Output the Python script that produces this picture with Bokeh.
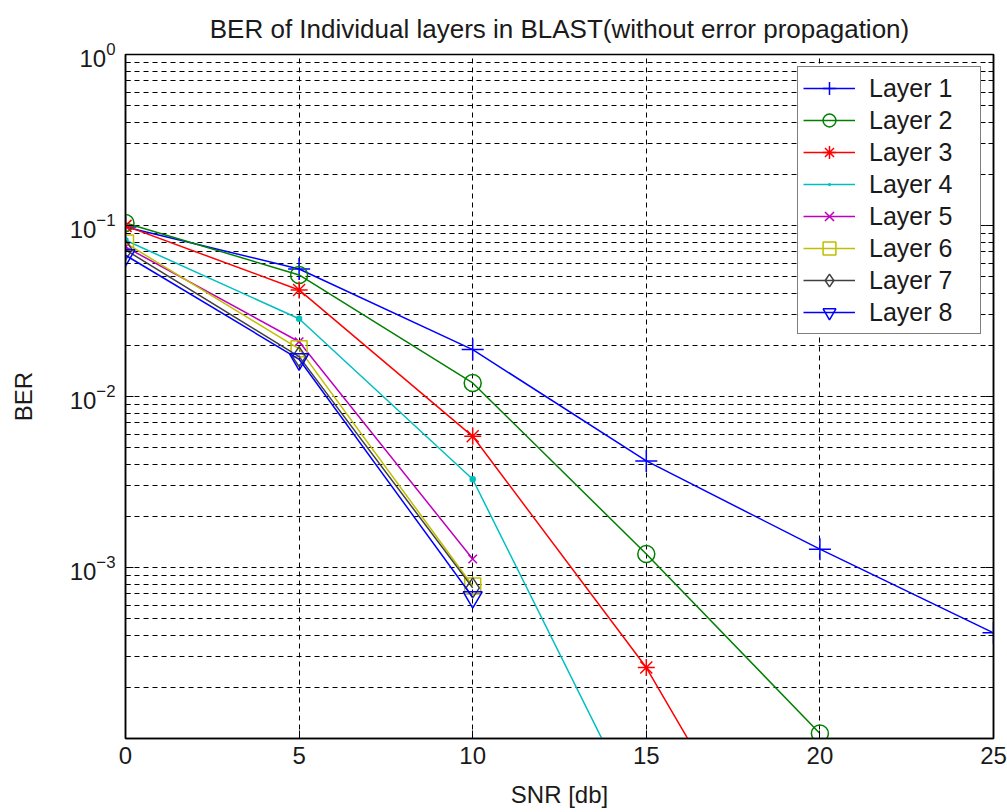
from bokeh.plotting import figure
from bokeh.models import (Range1d, FixedTicker, LogAxis, Legend, LegendItem,
                          CustomJSTickFormatter)
from bokeh.embed import file_html
from bokeh.resources import INLINE

# SNR points (dB) and per-layer bit error rates
snr = [0, 5, 10, 15, 20, 25]
layer_1 = [0.098, 0.0557, 0.0188, 0.0042, 0.00128, 0.000415]
layer_2 = [0.1035, 0.0514, 0.0120, 0.00120, 0.000107]
layer_3 = [0.0995, 0.0420, 0.00585, 0.00026, 0.0000047]
layer_4 = [0.0820, 0.0285, 0.00328, 0.000030]
layer_5 = [0.0750, 0.0209, 0.00112]
layer_6 = [0.0790, 0.0190, 0.00078]
layer_7 = [0.0720, 0.0171, 0.00076]
layer_8 = [0.0670, 0.0165, 0.00067]

labels = ["Layer 1", "Layer 2", "Layer 3", "Layer 4",
          "Layer 5", "Layer 6", "Layer 7", "Layer 8"]
x_ticks = [0, 5, 10, 15, 20, 25]
y_decades = [1e-3, 1e-2, 1e-1, 1e0]

FONT = "Liberation Sans"
TEXT = "#1a1a1a"

p = figure(width=1007, height=812, y_axis_type="log",
           x_range=Range1d(0, 25), y_range=Range1d(1e-4, 1),
           output_backend="svg", toolbar_location=None,
           min_border_left=125, min_border_right=14,
           min_border_top=52, min_border_bottom=74,
           title="BER of Individual layers in BLAST(without error propagation)")
p.background_fill_color = "white"
p.border_fill_color = "white"
p.outline_line_color = "black"
p.outline_line_width = 1.5

p.title.text_font = FONT
p.title.text_font_size = "26px"
p.title.text_font_style = "normal"
p.title.text_color = TEXT
p.title.align = "center"
p.title.standoff = 22

minor = [k * 10.0 ** e for e in range(-4, 0) for k in range(2, 10)]
yticker = FixedTicker(ticks=y_decades, minor_ticks=minor)
xticker = FixedTicker(ticks=x_ticks)

p.xaxis.ticker = xticker
p.yaxis.ticker = yticker

for ax in (p.xaxis[0], p.yaxis[0]):
    ax.major_label_text_font = FONT
    ax.major_label_text_font_size = "24px"
    ax.major_label_text_color = TEXT
    ax.axis_label_text_font = FONT
    ax.axis_label_text_font_size = "24px"
    ax.axis_label_text_font_style = "normal"
    ax.axis_label_text_color = TEXT
    ax.axis_line_color = "black"
    ax.axis_line_width = 1.5
    ax.major_tick_in = 8
    ax.major_tick_out = 0
    ax.minor_tick_in = 5
    ax.minor_tick_out = 0
    ax.major_tick_line_color = "black"
    ax.minor_tick_line_color = "black"

p.xaxis.axis_label = "SNR [db]"
p.xaxis.major_label_standoff = 8
p.xaxis.axis_label_standoff = 14
p.xaxis.minor_tick_line_color = None
p.yaxis.axis_label = "BER"
p.yaxis.major_label_standoff = 10
p.yaxis.axis_label_standoff = 30

# box ticks on the right edge
blank = CustomJSTickFormatter(code="return ''")
right = LogAxis(ticker=yticker, formatter=blank, major_tick_in=8, major_tick_out=0,
                minor_tick_in=5, minor_tick_out=0, major_label_standoff=0,
                axis_line_color="black", axis_line_width=1.5)
p.add_layout(right, "right")

# dotted MATLAB-style grid
p.xgrid.grid_line_color = "black"
p.xgrid.grid_line_dash = "5 4"
p.xgrid.grid_line_width = 1
p.ygrid.grid_line_color = "black"
p.ygrid.grid_line_dash = "5 4"
p.ygrid.grid_line_width = 1
p.ygrid.minor_grid_line_color = "black"
p.ygrid.minor_grid_line_dash = "5 4"
p.ygrid.minor_grid_line_width = 1

styles = [
    (layer_1, "#0000ff", "cross", 22, False),
    (layer_2, "#008000", "circle", 17, False),
    (layer_3, "#ff0000", "asterisk", 17, False),
    (layer_4, "#00bfbf", "dot", 26, True),
    (layer_5, "#bf00bf", "x", 12, False),
    (layer_6, "#bfbf00", "square", 16, False),
    (layer_7, "#404040", "diamond", 20, False),
    (layer_8, "#0000ff", "inverted_triangle", 19, False),
]

items = []
for label, (vals, color, marker, size, filled) in zip(labels, styles):
    xs = snr[:len(vals)]
    ln = p.line(xs, vals, line_color=color, line_width=1.5)
    sc = p.scatter(xs, vals, marker=marker, size=size, line_color=color,
                   line_width=1.5, fill_color=color if filled else None)
    items.append(LegendItem(label=label, renderers=[ln, sc]))

legend = Legend(items=items, location="top_right", margin=12,
                border_line_color="black", border_line_width=1.5,
                background_fill_color="white", background_fill_alpha=1.0,
                label_text_font=FONT, label_text_font_size="25px",
                label_text_color=TEXT, padding=5, spacing=0,
                glyph_width=52, glyph_height=32, label_height=32,
                label_width=106, label_standoff=14)
p.add_layout(legend)

open("out.html", "w").write(file_html(p, INLINE))
